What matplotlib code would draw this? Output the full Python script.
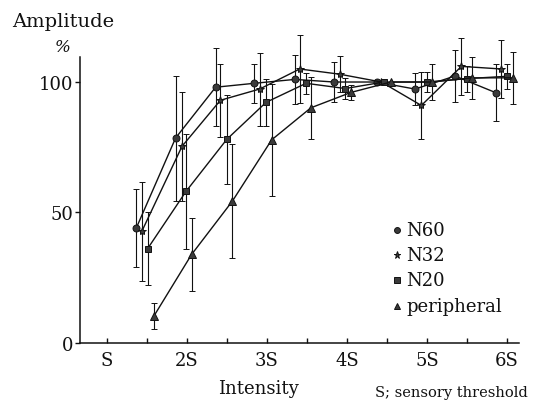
import matplotlib
matplotlib.use("Agg")
import matplotlib.pyplot as plt

# x positions are in units of the sensory threshold S
n60_x = [1.37, 1.86, 2.36, 2.84, 3.35, 3.84, 4.37, 4.85, 5.35, 5.86]
n60_y = [44, 78.5, 98, 99.5, 101, 100, 100, 97.3, 102.3, 95.9]
n60_err = [15, 24, 15, 7.6, 9.3, 7.6, 0, 6, 10, 11]

n32_x = [1.44, 1.94, 2.42, 2.91, 3.41, 3.91, 4.43, 4.93, 5.43, 5.93]
n32_y = [42.8, 75.3, 93, 97.3, 105, 103, 100, 91, 106, 105]
n32_err = [19, 21, 14, 14, 13, 7, 0, 13, 11, 11]

n20_x = [1.51, 1.99, 2.50, 2.99, 3.49, 3.98, 4.46, 5.00, 5.50, 6.00]
n20_y = [36, 58, 78, 92.2, 99.5, 97.5, 100, 100, 101.3, 102.2]
n20_err = [14, 22, 17, 9, 4, 4, 0, 3.7, 5, 4.8]

per_x = [1.59, 2.06, 2.57, 3.06, 3.55, 4.05, 4.55, 5.06, 5.56, 6.07]
per_y = [10.2, 33.8, 54.3, 77.8, 90.1, 96, 100, 100, 101.6, 101.6]
per_err = [5, 14, 22, 21.5, 12, 3, 0, 7, 8, 10]

x_ticks = [1, 2, 3, 4, 5, 6]
x_labels = ["S", "2S", "3S", "4S", "5S", "6S"]
y_ticks = [0, 50, 100]

INK = "#111111"
FILL = "#3a3a3a"

plt.rcParams["font.family"] = ["DejaVu Serif"]

fig = plt.figure(figsize=(5.34, 4.02), dpi=100, facecolor="white")
ax = fig.add_axes([0.1498, 0.1455, 0.972 - 0.1498, 0.8557 - 0.1455])

series = [
    (n60_x, n60_y, n60_err, "o", 5.0, "N60"),
    (n32_x, n32_y, n32_err, "*", 6.0, "N32"),
    (n20_x, n20_y, n20_err, "s", 4.6, "N20"),
    (per_x, per_y, per_err, "^", 5.6, "peripheral"),
]

for xs, ys, errs, mk, ms, name in series:
    ax.errorbar(xs, ys, yerr=errs, fmt="-", marker=mk, ms=ms, color=INK,
                mfc=FILL, mec=INK, mew=0.7, lw=1.0, elinewidth=0.8,
                capsize=2.2, capthick=0.8, label=name, clip_on=False)

ax.set_xlim(0.666, 6.15)
ax.set_ylim(0, 109.6)

for side in ["top", "right"]:
    ax.spines[side].set_visible(False)
for side in ["left", "bottom"]:
    ax.spines[side].set_linewidth(1.1)
    ax.spines[side].set_color(INK)

ax.set_xticks(x_ticks)
ax.set_xticklabels(x_labels)
ax.set_xticks([1.5, 2.5, 3.5, 4.5, 5.5], minor=True)
ax.tick_params(axis="x", which="both", direction="in", length=3.5, width=1.0,
               colors=INK, labelsize=13, pad=6)
ax.set_yticks(y_ticks)
ax.tick_params(axis="y", direction="out", length=3.5, width=1.0,
               colors=INK, labelsize=13, pad=1)

# legend as free text, like the printed figure
for i, (xs, ys, errs, mk, ms, name) in enumerate(series):
    yy = 1 - (230.7 + 25.3 * i) / 402
    fig.lines.append(plt.Line2D([397 / 534], [yy], marker=mk, ms=ms * 0.85,
                                color=INK, mfc=FILL, mec=INK, mew=0.7,
                                transform=fig.transFigure))
    fig.text(406 / 534, yy, name, fontsize=13, va="center", ha="left", color=INK)

fig.text(63.5 / 534, 1 - 27 / 402, "Amplitude", fontsize=14, ha="center",
         va="baseline", color=INK)
fig.text(63 / 534, 1 - 48 / 402, "%", fontsize=12, ha="center", va="center",
         style="italic", color=INK)
fig.text(258.5 / 534, 1 - 389 / 402, "Intensity", fontsize=13, ha="center",
         va="center", color=INK)
fig.text(451 / 534, 1 - 393 / 402, "S; sensory threshold", fontsize=10.5,
         ha="center", va="center", color=INK)

fig.savefig("out.png", dpi=100, facecolor="white")
